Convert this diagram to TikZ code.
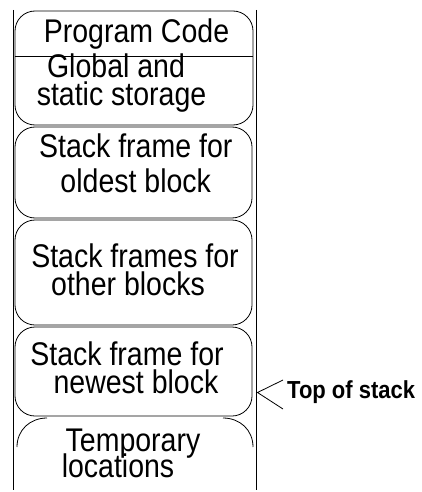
\documentclass[tikz,border=0pt]{standalone}
\usepackage{fontspec}
\setmainfont{Liberation Sans}
\begin{document}
\begin{tikzpicture}[x=1pt,y=-1pt,
  box/.style={draw,line width=0.8pt,rounded corners=20pt,inner sep=0pt},
  txt/.style={anchor=base,inner sep=0pt,align=center,font=\fontsize{28.5}{30}\selectfont,transform shape,yscale=1.15},
  lbl/.style={anchor=base west,inner sep=0pt,font=\fontsize{22}{24}\selectfont\bfseries,transform shape,yscale=1.12},
  ln/.style={line width=0.8pt}]
\useasboundingbox (0,0) rectangle (422,492);
% outer walls
\coordinate (wl1) at (13,10);
\coordinate (wl2) at (13,490);
\coordinate (wr1) at (256,10);
\coordinate (wr2) at (256,490);
\draw[ln] (wl1) -- (wl2);
\draw[ln] (wr1) -- (wr2);
% boxes
\node[box,minimum width=238pt,minimum height=114pt] (b1) at (134,68) {};
\draw[ln] (b1.west |- 0,56) -- (b1.east |- 0,56);
\node[box,minimum width=237pt,minimum height=91pt] (b2) at (133.5,172.5) {};
\node[box,minimum width=237pt,minimum height=105pt] (b3) at (133.5,272.5) {};
\node[box,minimum width=237pt,minimum height=89pt] (b4) at (133.5,371.5) {};
% temporary locations corner arcs
\coordinate (tl1) at (17,447);
\coordinate (tl2) at (47,418);
\coordinate (tr1) at (223,418);
\coordinate (tr2) at (253,447);
\draw[ln] (tl1) .. controls (17,430) and (30,418) .. (tl2);
\draw[ln] (tr1) .. controls (240,418) and (253,430) .. (tr2);
% texts
\node[txt] (t1) at (136.5,43) {Program Code};
\node[txt] (t2) at (118.75,106) {Global and\hspace*{5.5pt}\\[-4.8pt]\hspace*{5.5pt}static storage};
\node[txt] (t3) at (135.75,192) {Stack frame for\\oldest block};
\node[txt] (t4) at (131.5,295) {\hspace*{7pt}Stack frames for\\[-6.5pt]other blocks\hspace*{7pt}};
\node[txt] (t5) at (131.5,393) {Stack frame for\hspace*{9pt}\\[-5.7pt]\hspace*{9pt}newest block};
\node[txt] (t6) at (125.5,477) {\hspace*{15pt}Temporary\\[-7.4pt]locations\hspace*{15pt}};
% top of stack
\node[lbl] (top) at (287,398.5) {Top of stack};
\coordinate (ap) at (257.5,392.5);
\coordinate (au) at (283,380);
\coordinate (ad) at (283,409);
\draw[ln] (au) -- (ap) -- (ad);
\end{tikzpicture}
\end{document}
